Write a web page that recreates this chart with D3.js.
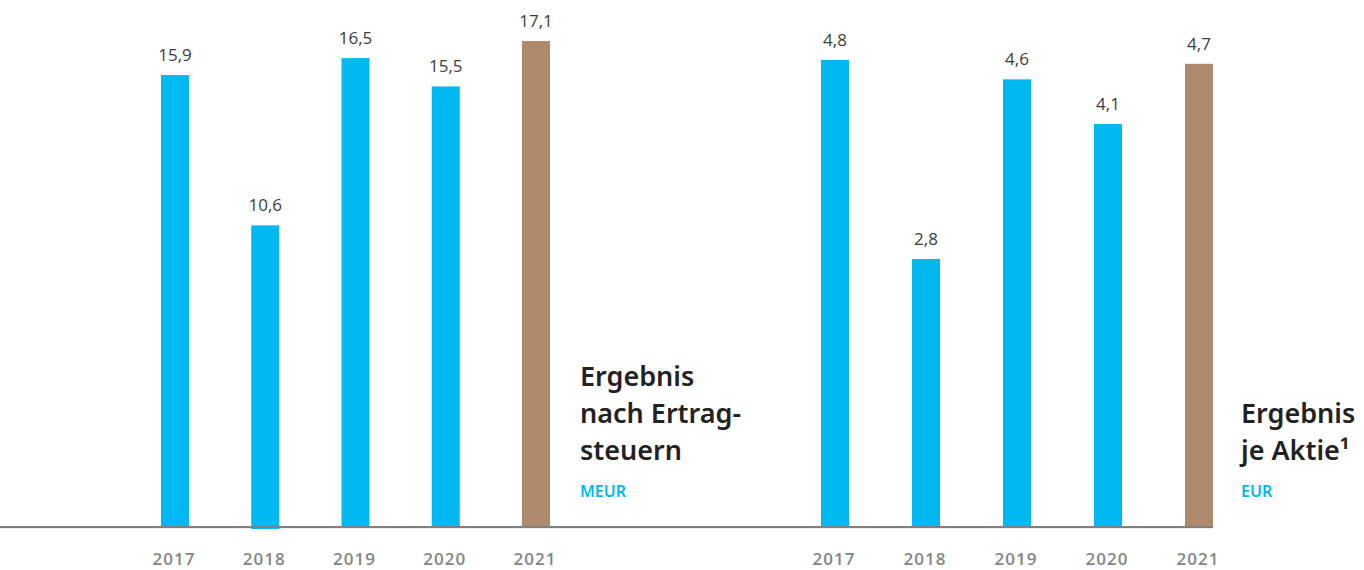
<!DOCTYPE html>
<html>
<head>
<meta charset="utf-8">
<script src="https://cdn.jsdelivr.net/npm/d3@7"></script>
<style>
  body { margin: 0; background: #fff; }
  svg { display: block; }
  .value-label { font-family: "Open Sans", sans-serif; font-size: 17px; fill: #3c3c3c; text-anchor: middle; }
  .year-label { font-family: "Open Sans", sans-serif; font-size: 17px; font-weight: 600; fill: #858585; text-anchor: middle; letter-spacing: 1px; }
  .title { font-family: "Noto Sans", sans-serif; font-size: 27px; font-weight: 600; fill: #222; }
  .unit { font-family: "Noto Sans", sans-serif; font-size: 16px; font-weight: 600; fill: #00b9f0; }
</style>
</head>
<body>
<svg id="chart" width="1364" height="570"></svg>
<script>
// data
const years = ["2017", "2018", "2019", "2020", "2021"];
const profitValues = [15.9, 10.6, 16.5, 15.5, 17.1];
const profitLabels = ["15,9", "10,6", "16,5", "15,5", "17,1"];
const epsValues = [4.8, 2.75, 4.6, 4.14, 4.76];
const epsLabels = ["4,8", "2,8", "4,6", "4,1", "4,7"];
const profitTitle = ["Ergebnis", "nach Ertrag-", "steuern"];
const epsTitle = ["Ergebnis", "je Aktie\u00b9"];

const blue = "#00b9f0";
const brown = "#ad8a6c";
const baseY = 526;
const barWidth = 28;

const svg = d3.select("#chart");

// faint shadow under the axis line
svg.append("line")
  .attr("x1", 0).attr("x2", 1213)
  .attr("y1", baseY + 2.5).attr("y2", baseY + 2.5)
  .attr("stroke", "#ececec").attr("stroke-width", 1);

function drawPanel(values, labels, xRange, yScale, extendBelow) {
  const xScale = d3.scalePoint().domain(years).range(xRange);
  const g = svg.append("g");

  g.selectAll("rect")
    .data(values)
    .enter()
    .append("rect")
    .attr("x", (d, i) => xScale(years[i]) - barWidth / 2)
    .attr("y", d => yScale(d))
    .attr("width", barWidth)
    .attr("height", (d, i) => yScale(0) - yScale(d) + (extendBelow[i] || 0))
    .attr("fill", (d, i) => i === years.length - 1 ? brown : blue);

  g.selectAll(".value-label")
    .data(values)
    .enter()
    .append("text")
    .attr("class", "value-label")
    .attr("x", (d, i) => xScale(years[i]))
    .attr("y", d => yScale(d) - 14)
    .text((d, i) => labels[i]);

  g.selectAll(".year-label")
    .data(years)
    .enter()
    .append("text")
    .attr("class", "year-label")
    .attr("x", d => xScale(d) - 1)
    .attr("y", 565)
    .text(d => d);
}

const yProfit = d3.scaleLinear().domain([0, 18]).range([baseY, baseY - 18 * 28.36]);
const yEps = d3.scaleLinear().domain([0, 5]).range([baseY, baseY - 5 * 97.1]);

drawPanel(profitValues, profitLabels, [175, 536], yProfit, [0, 3, 0, 0, 0]);
drawPanel(epsValues, epsLabels, [835, 1199], yEps, []);

svg.append("line")
  .attr("x1", 0).attr("x2", 1213)
  .attr("y1", baseY + 1).attr("y2", baseY + 1)
  .attr("stroke", "#808080").attr("stroke-width", 2);

// titles
function drawTitle(lines, unit, x, firstBaseline) {
  const t = svg.append("g");
  t.selectAll("text.title")
    .data(lines)
    .enter()
    .append("text")
    .attr("class", "title")
    .attr("x", x)
    .attr("y", (d, i) => firstBaseline + i * 37)
    .text(d => d);
  t.append("text")
    .attr("class", "unit")
    .attr("x", x)
    .attr("y", 497)
    .text(unit);
}

drawTitle(profitTitle, "MEUR", 580, 386);
drawTitle(epsTitle, "EUR", 1241, 423);
</script>
</body>
</html>
